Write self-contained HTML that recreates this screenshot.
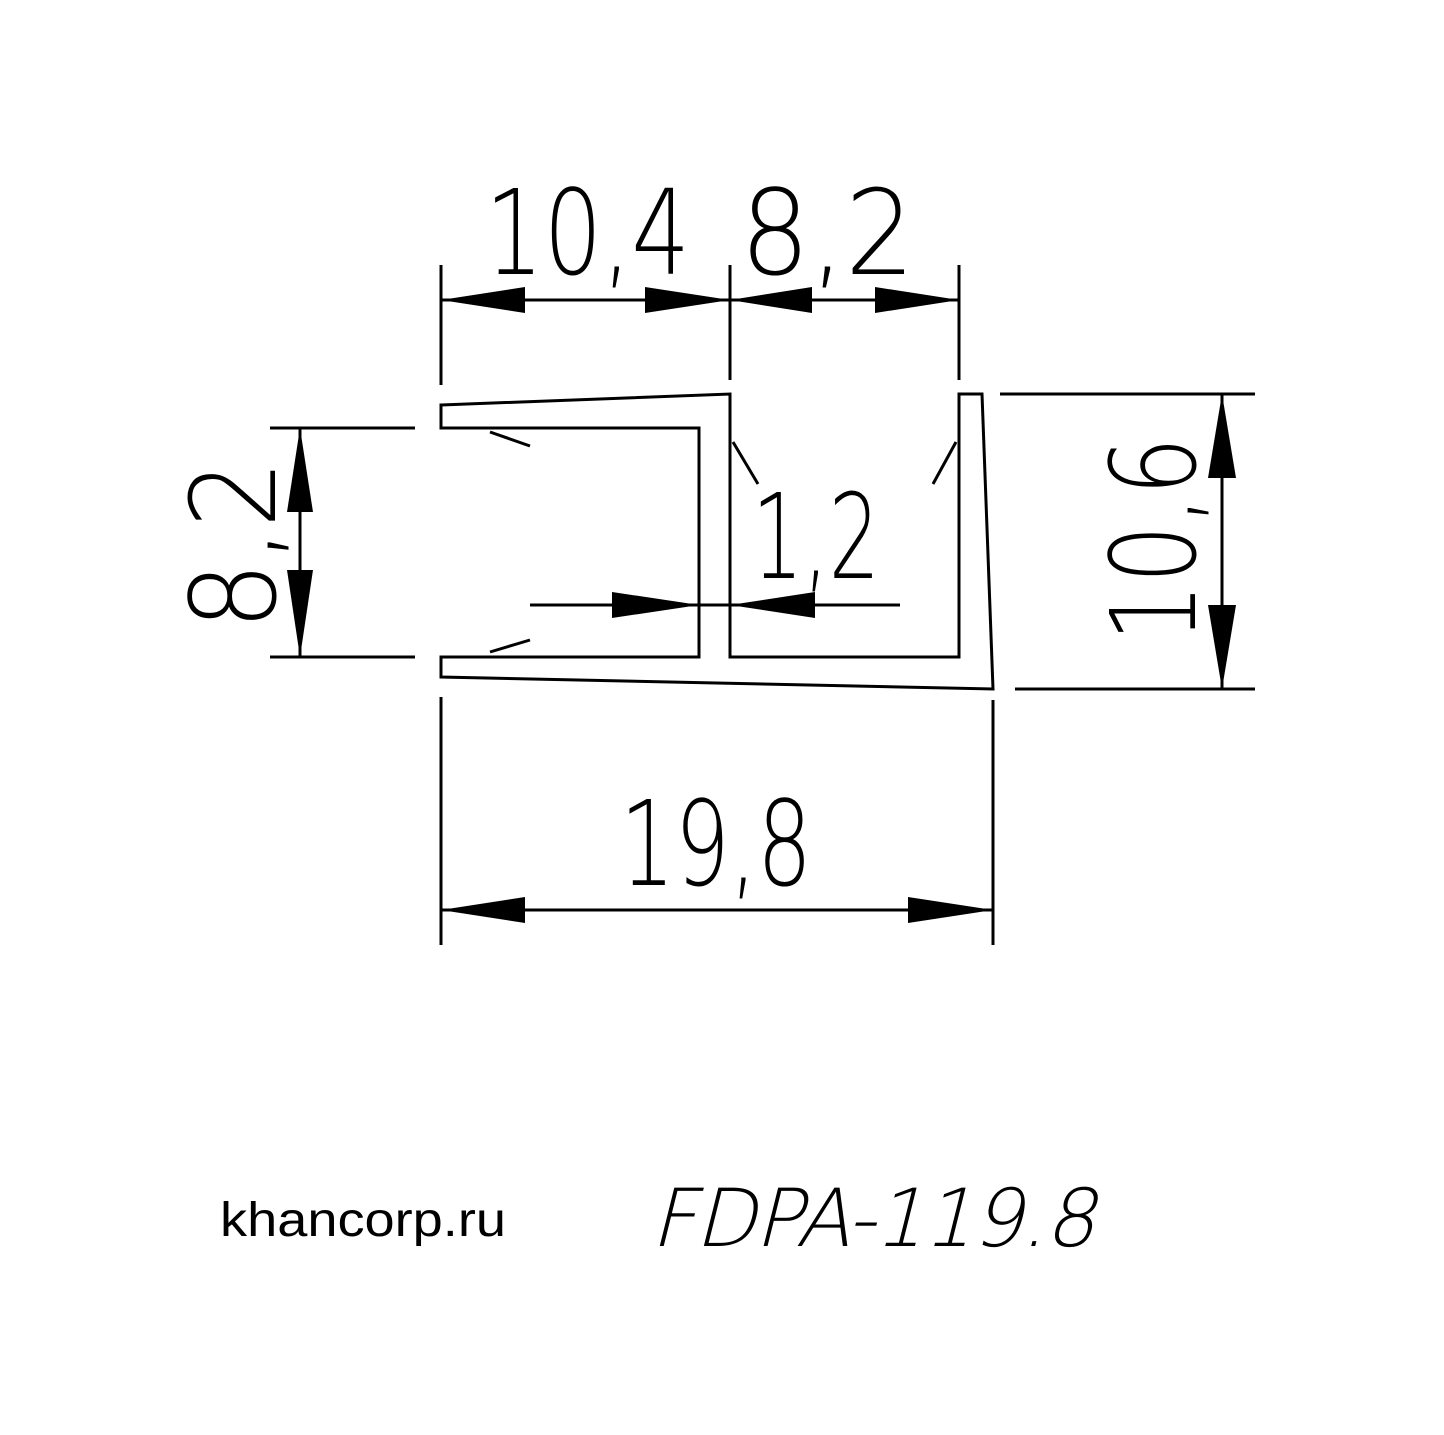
<!DOCTYPE html>
<html><head><meta charset="utf-8"><style>
html,body{margin:0;padding:0;background:#fff;}
svg{display:block}
.t{font-family:"DejaVu Sans","Liberation Sans",sans-serif;font-weight:200;fill:#000;}
</style></head><body>
<svg width="1444" height="1435" viewBox="0 0 1444 1435" xmlns="http://www.w3.org/2000/svg">
<g stroke="#000" stroke-width="3" fill="none">
<path d="M441,405 L730,394 L730,657 L959,657 L959,394 L982,394 L993,689 L441,677 L441,657 L699,657 L699,428 L441,428 Z"/>
<line x1="441" y1="265" x2="441" y2="385"/>
<line x1="730" y1="265" x2="730" y2="380"/>
<line x1="959" y1="265" x2="959" y2="380"/>
<line x1="441" y1="300" x2="959" y2="300"/>
<line x1="270" y1="428" x2="415" y2="428"/>
<line x1="270" y1="657" x2="415" y2="657"/>
<line x1="300" y1="428" x2="300" y2="657"/>
<line x1="1000" y1="394" x2="1255" y2="394"/>
<line x1="1015" y1="689" x2="1255" y2="689"/>
<line x1="1222" y1="394" x2="1222" y2="689"/>
<line x1="441" y1="697" x2="441" y2="945"/>
<line x1="993" y1="700" x2="993" y2="945"/>
<line x1="441" y1="910" x2="993" y2="910"/>
<line x1="530" y1="605" x2="900" y2="605"/>
<line x1="490" y1="432" x2="530" y2="446"/>
<line x1="490" y1="652" x2="530" y2="640"/>
<line x1="733" y1="442" x2="758" y2="484"/>
<line x1="956" y1="442" x2="933" y2="484"/>
</g>
<g fill="#000">
<polygon points="441,300 525,287 525,313"/>
<polygon points="730,300 645,287 645,313"/>
<polygon points="730,300 812,287 812,313"/>
<polygon points="959,300 875,287 875,313"/>
<polygon points="441,910 525,897 525,923"/>
<polygon points="993,910 908,897 908,923"/>
<polygon points="300,428 287,512 313,512"/>
<polygon points="300,657 287,570 313,570"/>
<polygon points="1222,394 1208,478 1236,478"/>
<polygon points="1222,689 1208,605 1236,605"/>
<polygon points="699,605 612,592 612,618"/>
<polygon points="730,605 815,592 815,618"/>
</g>
<text class="t" x="485" y="274" font-size="118" textLength="205" lengthAdjust="spacingAndGlyphs">10,4</text>
<text class="t" x="740" y="274" font-size="118" textLength="175" lengthAdjust="spacingAndGlyphs">8,2</text>
<text class="t" x="752" y="578" font-size="118" textLength="128" lengthAdjust="spacingAndGlyphs">1,2</text>
<text class="t" x="620" y="885" font-size="118" textLength="192" lengthAdjust="spacingAndGlyphs">19,8</text>
<text class="t" transform="translate(275,630) rotate(-90)" font-size="118" textLength="170" lengthAdjust="spacingAndGlyphs">8,2</text>
<text class="t" transform="translate(1195,642) rotate(-90)" font-size="118" textLength="205" lengthAdjust="spacingAndGlyphs">10,6</text>
<text x="220" y="1236" font-family="Liberation Sans, sans-serif" font-size="48" textLength="286" lengthAdjust="spacingAndGlyphs">khancorp.ru</text>
<g transform="translate(0,1246) skewX(-14)">
<text class="t" x="650" y="0" font-size="80" textLength="445" lengthAdjust="spacing">FDPA-119.8</text>
</g>
</svg>
</body></html>
